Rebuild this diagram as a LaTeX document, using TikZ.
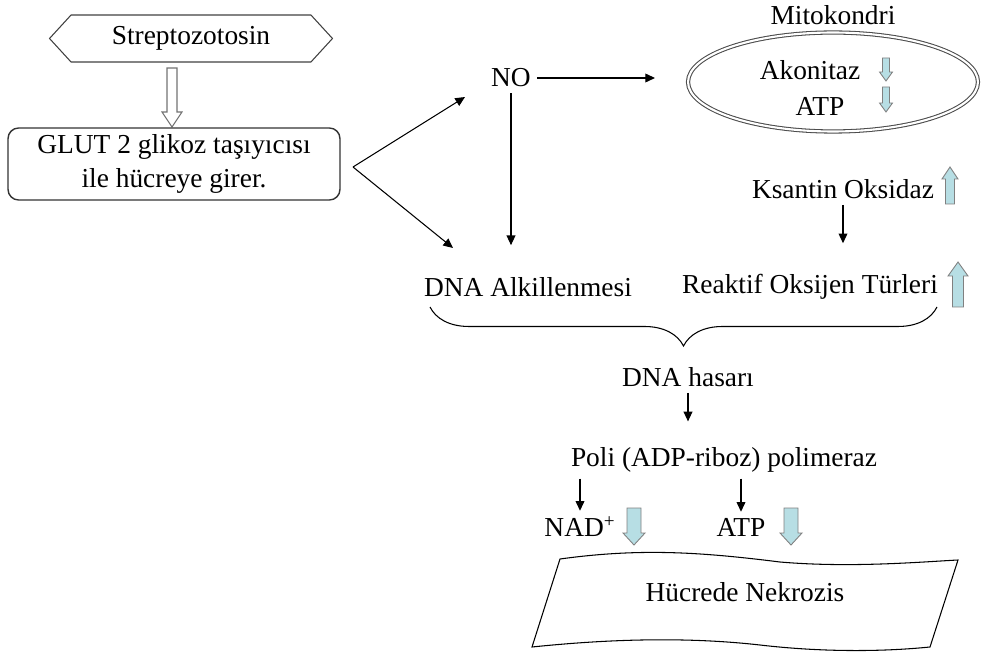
\documentclass[tikz,border=0pt]{standalone}
\usepackage{fontspec}
\setmainfont{Liberation Serif}
\usetikzlibrary{arrows.meta,calc,shapes.geometric,shapes.symbols,decorations.pathreplacing}
\definecolor{downblue}{RGB}{183,222,228}
\tikzset{
  flow/.style={-{Triangle[length=5.5pt,width=5pt]},line width=0.6pt},
  hexa/.style={signal,signal to=west and east,signal pointer angle=95,draw=black!75,line width=0.6pt,
    minimum width=5.66cm,minimum height=0.94cm,inner sep=0pt},
  roundbox/.style={draw=black!80,line width=0.8pt,rounded corners=6pt,align=center,
    minimum width=6.64cm,minimum height=1.44cm,inner sep=0pt},
  mitobox/.style={ellipse,draw=black!70,double,double distance=1.2pt,line width=0.6pt,
    minimum width=5.8cm,minimum height=1.98cm},
  hollow/.style={draw=black!55,fill=white,line width=0.6pt},
  cyanarr/.style={draw=black!50,fill=downblue,line width=0.5pt},
  pics/blockarr/.style args={#1/#2/#3/#4}{code={%
    \path[pic actions] (-#2,0) -- (#2,0) -- (#2,#1-#4) -- (#3,#1-#4) -- (0,#1)
      -- (-#3,#1-#4) -- (-#2,#1-#4) -- cycle;}}
}
\begin{document}
\begin{tikzpicture}[x=0.02cm,y=-0.02cm,font=\fontsize{15.6}{19}\selectfont]
\useasboundingbox (0,0) rectangle (981,655);

% giris
\node[hexa] (strep) at (191,38.5) {Streptozotosin};
\pic[hollow] at (172,68) {blockarr={59/5/10/15}};
\node[roundbox] (glut) at (174,164) {GLUT 2 glikoz taşıyıcısı\\ile hücreye girer.};

% NO ve mitokondri
\coordinate (fork) at (353,167);
\coordinate (notip) at (465,97);
\coordinate (alktip) at (453,248);
\node (no) at (511,78) {NO};
\coordinate (noend) at (655,78);
\node (mitolbl) at (833,15) {Mitokondri};
\node[mitobox] (mito) at (833,82) {};
\node (akon) at (810,70) {Akonitaz};
\node (atpm) at (820,106) {ATP};
\pic[cyanarr] at (886,58) {blockarr={23/3.5/6.5/9}};
\pic[cyanarr] at (886,87) {blockarr={25/3.5/6.5/9}};

\node (ksantin) at (843,189) {Ksantin Oksidaz};
\pic[cyanarr,rotate=180] at (950,204) {blockarr={37/4.5/8/12}};

% hasar
\node (alk) at (528,287) {DNA Alkillenmesi};
\node (ros) at (810,287) {Reaktif Oksijen Türleri};
\pic[cyanarr,rotate=180] at (958,307) {blockarr={45/5.5/10/14}};
\coordinate (brl) at (430,307);
\coordinate (brr) at (937,307);
\node (hasar) at (688,377) {DNA hasarı};
\node (poli) at (724,460) {Poli (ADP-riboz) polimeraz};
\node (nad) at (580,527) {NAD\textsuperscript{+}};
\node (atp) at (741,527) {ATP};
\pic[cyanarr] at (634,508) {blockarr={37/7/11/12}};
\pic[cyanarr] at (791,508) {blockarr={37/7/11/12}};

% nekroz
\draw[line width=0.6pt] (560,559) .. controls (640,548) and (700,552) .. (780,562)
  .. controls (850,568) and (920,562) .. (958,560) -- (930,647)
  .. controls (880,652) and (820,652) .. (760,645)
  .. controls (680,636) and (600,640) .. (532,647) -- cycle;
\node (nekroz) at (745,592) {Hücrede Nekrozis};

% oklar
\draw[line width=0.6pt] (glut.east) ++(13,3) coordinate (g) -- (fork);
\draw[flow] (fork) -- (notip);
\draw[flow] (fork) -- (alktip);
\draw[flow] (no.east) -- (noend);
\draw[flow,shorten >=0.52cm] (no.south) -- (no.south |- alk.north);
\draw[flow,shorten >=0.5cm] (ksantin.south) -- (ksantin.south |- ros.north);
\draw[line width=0.6pt,decorate,decoration={brace,mirror,amplitude=0.78cm}] (brl) -- (brr);
\draw[flow,shorten >=0.4cm] (hasar.south) -- (hasar.south |- poli.north);
\draw[flow] (poli.south -| nad) -- (nad.north);
\draw[flow] (poli.south -| atp) -- (atp.north);
\end{tikzpicture}
\end{document}
